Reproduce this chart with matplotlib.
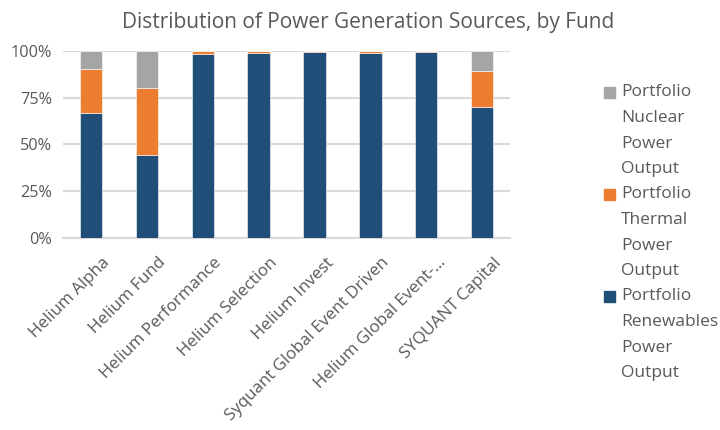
import numpy as np
import matplotlib.pyplot as plt
import matplotlib.transforms as mtransforms
from matplotlib.patches import Rectangle
from matplotlib.ticker import PercentFormatter

plt.rcParams['font.family'] = ['Open Sans', 'DejaVu Sans']

funds = ['Helium Alpha', 'Helium Fund', 'Helium Performance', 'Helium Selection',
         'Helium Invest', 'Syquant Global Event Driven', 'Helium Global Event-…',
         'SYQUANT Capital']
renewables = [66.8, 44.2, 98.1, 99.0, 99.5, 99.0, 99.5, 69.9]
thermal = [23.4, 36.0, 1.9, 1.0, 0.5, 1.0, 0.5, 19.4]
nuclear = [9.8, 19.8, 0.0, 0.0, 0.0, 0.0, 0.0, 10.7]

series_names = ['Portfolio Renewables Power Output',
                'Portfolio Thermal Power Output',
                'Portfolio Nuclear Power Output']
colors = ['#1F4E79', '#ED7D31', '#A5A5A5']
text_col = '#595959'

fig = plt.figure(figsize=(7.2, 4.3), dpi=100)
ax = fig.add_axes([0.0875, 0.447, 0.621, 0.435])

x = np.arange(len(funds))
bottom = np.zeros(len(funds))
for vals, col in zip([renewables, thermal, nuclear], colors):
    ax.bar(x, vals, width=0.4, bottom=bottom, color=col, zorder=3,
           edgecolor='white', linewidth=0.4)
    bottom += np.array(vals)

ax.set_xlim(-0.5, len(funds) - 0.5)
ax.set_ylim(0, 100)
ax.set_yticks([0, 25, 50, 75, 100])
ax.yaxis.set_major_formatter(PercentFormatter(decimals=0))
ax.grid(axis='y', color='#D9D9D9', linewidth=1.5, zorder=0)
for s in ['top', 'right', 'left']:
    ax.spines[s].set_visible(False)
ax.spines['bottom'].set_color('#D9D9D9')
ax.spines['bottom'].set_linewidth(1.5)
ax.tick_params(axis='both', length=0, colors=text_col, labelsize=11.7)
ax.tick_params(axis='y', pad=8)
ax.set_xticks(x)
ax.set_xticklabels(funds, rotation=45, ha='right', rotation_mode='anchor',
                   fontsize=12.2)
shift = mtransforms.ScaledTranslation(0.11, -0.12, fig.dpi_scale_trans)
for lbl in ax.get_xticklabels():
    lbl.set_transform(lbl.get_transform() + shift)

fig.text(0.511, 0.947, 'Distribution of Power Generation Sources, by Fund',
         ha='center', va='center', fontsize=15, color=text_col)

# legend, drawn top to bottom: nuclear, thermal, renewables
line_h = 25.5 / 430
y0 = 92.5 / 430
for i, k in enumerate([2, 1, 0]):
    words = series_names[k].split(' ')
    ytop = 1 - y0 - i * 4 * line_h
    fig.patches.append(Rectangle((604 / 720, ytop - 5.5 / 430), 11 / 720, 11 / 430,
                                 transform=fig.transFigure, color=colors[k]))
    for j, w in enumerate(words):
        fig.text(621 / 720, ytop - j * line_h, w, ha='left', va='center',
                 fontsize=12.5, color=text_col)

fig.savefig('out.png', dpi=100)
